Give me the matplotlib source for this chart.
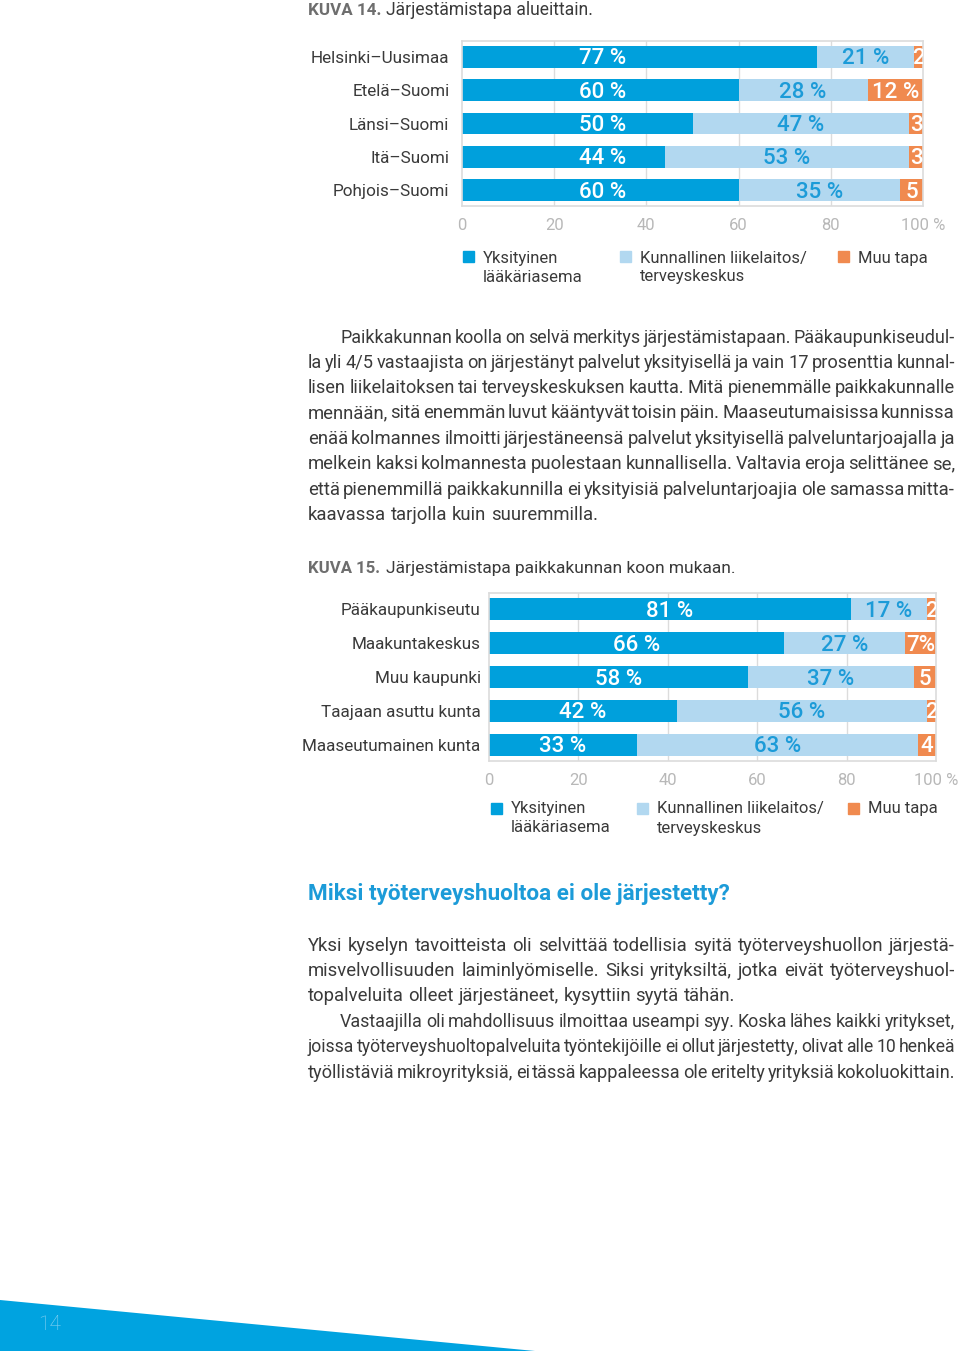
import numpy as np
import matplotlib
matplotlib.use('Agg')
import matplotlib.pyplot as plt
from matplotlib import font_manager
from matplotlib.patches import Rectangle, Polygon

# --- data -------------------------------------------------------------
regions = ['Helsinki–Uusimaa', 'Etelä–Suomi', 'Länsi–Suomi', 'Itä–Suomi', 'Pohjois–Suomi']
reg_private = [77, 60, 50, 44, 60]
reg_municipal = [21, 28, 47, 53, 35]
reg_other = [2, 12, 3, 3, 5]
reg_other_labels = ['2', '12 %', '3', '3', '5']

sizes = ['Pääkaupunkiseutu', 'Maakuntakeskus', 'Muu kaupunki',
         'Taajaan asuttu kunta', 'Maaseutumainen kunta']
size_private = [81, 66, 58, 42, 33]
size_municipal = [17, 27, 37, 56, 63]
size_other = [2, 7, 5, 2, 4]
size_other_labels = ['2', '7%', '5', '2', '4']

legend_labels = [['Yksityinen', 'lääkäriasema'],
                 ['Kunnallinen liikelaitos/', 'terveyskeskus'],
                 ['Muu tapa']]
xticks = [0, 20, 40, 60, 80, 100]
xtick_labels = ['0', '20', '40', '60', '80', '100 %']

para1 = [
    'Paikkakunnan koolla on selvä merkitys järjestämistapaan. Pääkaupunkiseudul-',
    'la yli 4/5 vastaajista on järjestänyt palvelut yksityisellä ja vain 17 prosenttia kunnal-',
    'lisen liikelaitoksen tai terveyskeskuksen kautta. Mitä pienemmälle paikkakunnalle',
    'mennään, sitä enemmän luvut kääntyvät toisin päin. Maaseutumaisissa kunnissa',
    'enää kolmannes ilmoitti järjestäneensä palvelut yksityisellä palveluntarjoajalla ja',
    'melkein kaksi kolmannesta puolestaan kunnallisella. Valtavia eroja selittänee se,',
    'että pienemmillä paikkakunnilla ei yksityisiä palveluntarjoajia ole samassa mitta-',
    'kaavassa tarjolla kuin suuremmilla.',
]
para2 = [
    'Yksi kyselyn tavoitteista oli selvittää todellisia syitä työterveyshuollon järjestä-',
    'misvelvollisuuden laiminlyömiselle. Siksi yrityksiltä, jotka eivät työterveyshuol-',
    'topalveluita olleet järjestäneet, kysyttiin syytä tähän.',
]
para3 = [
    'Vastaajilla oli mahdollisuus ilmoittaa useampi syy. Koska lähes kaikki yritykset,',
    'joissa työterveyshuoltopalveluita työntekijöille ei ollut järjestetty, olivat alle 10 henkeä',
    'työllistäviä mikroyrityksiä, ei tässä kappaleessa ole eritelty yrityksiä kokoluokittain.',
]

# --- style ------------------------------------------------------------
DARK = '#00a0dc'
LIGHT = '#b2d8f0'
ORANGE = '#f08a4f'
TXT = '#3a3a3a'
GRID = '#dcdcdc'
TICK = '#b8b8b8'

installed = {f.name for f in font_manager.fontManager.ttflist}
BODY = 'Liberation Sans Narrow' if 'Liberation Sans Narrow' in installed else 'Roboto'
CHART = 'Roboto'

W, H = 960, 1351
fig = plt.figure(figsize=(W / 100, H / 100), dpi=100)
fig.patch.set_facecolor('white')
renderer = fig.canvas.get_renderer()


def fx(x):
    return x / W


def fy(y):
    return 1 - y / H


def width_of(t):
    return t.get_window_extent(renderer).width


def fit_text(x, yb, s, target, size=12, **kw):
    t = fig.text(fx(x), fy(yb), s, fontsize=size, va='baseline', ha='left', **kw)
    t.set_fontsize(size * target / width_of(t))
    return t


def justify(line, x0, x1, yb, size, last=False):
    # place words one by one so the line fills x0..x1 like the printed page
    words = line.split()
    while True:
        arts = [fig.text(0, 0, w, fontsize=size, family=BODY, color=TXT,
                         va='baseline', ha='left') for w in words]
        widths = [width_of(a) for a in arts]
        space = 0.25 * size * 100 / 72
        if last:
            gap = space
        else:
            gap = (x1 - x0 - sum(widths)) / (len(words) - 1)
        if gap >= 0.5 * space:
            break
        for a in arts:
            a.remove()
        size *= 0.985
    x = x0
    for a, w in zip(arts, widths):
        a.set_position((fx(x), fy(yb)))
        x += w + gap


def bar_chart(box, cats, private, municipal, other, other_labels,
              label_pad, fixed_x=None):
    l, t, r, b = box
    ax = fig.add_axes([fx(l), fy(b), (r - l) / W, (b - t) / H])
    y = np.arange(len(cats))
    private = np.array(private)
    municipal = np.array(municipal)
    other = np.array(other)
    ax.barh(y, private, height=0.66, color=DARK, zorder=2)
    ax.barh(y, municipal, left=private, height=0.66, color=LIGHT, zorder=2)
    ax.barh(y, other, left=private + municipal, height=0.66, color=ORANGE, zorder=2)
    ax.set_xlim(0, 100)
    ax.set_ylim(len(cats) - 0.52, -0.48)
    dy = 0.06  # nudge labels down a touch, the digits sit optically high
    for i in range(len(cats)):
        px = fixed_x if fixed_x is not None else private[i] / 2
        ax.text(px, i + dy, f'{private[i]} %', color='white', fontsize=16, weight='medium',
                family=CHART, ha='center', va='center', zorder=3)
        ax.text(private[i] + municipal[i] / 2, i + dy, f'{municipal[i]} %', color='#1c9bd8',
                fontsize=16, weight='medium', family=CHART, ha='center', va='center', zorder=3)
        ax.text(private[i] + municipal[i] + other[i] / 2, i + dy, other_labels[i],
                color='white', fontsize=16, weight='medium', family=CHART,
                ha='center', va='center', zorder=3, clip_on=True)
    ax.set_yticks(y)
    ax.set_yticklabels(cats, fontsize=12.3, family=CHART, color=TXT)
    ax.set_xticks(xticks)
    ax.set_xticklabels(xtick_labels, fontsize=12, family=CHART, color=TICK)
    ax.tick_params(axis='y', length=0, pad=label_pad)
    ax.tick_params(axis='x', length=0, pad=9)
    for g in xticks[1:-1]:
        ax.axvline(g, color=GRID, lw=1, zorder=1)
    for s in ax.spines.values():
        s.set_color(GRID)
        s.set_linewidth(1.2)
    return ax


def legend(xs, ysq, text_y):
    cols = [DARK, LIGHT, ORANGE]
    for x, c, lines in zip(xs, cols, legend_labels):
        fig.add_artist(Rectangle((fx(x), fy(ysq + 11)), 11 / W, 11 / H,
                                 transform=fig.transFigure, color=c))
        for k, ln in enumerate(lines):
            fig.text(fx(x + 20), fy(text_y + 19 * k), ln, fontsize=12, family=CHART,
                     color=TXT, va='center', ha='left')


# --- chart 14 ---------------------------------------------------------
fit_text(308, 15, 'KUVA 14.', 73, family=BODY, weight='bold', color='#6e6e6e')
fit_text(386, 15, 'Järjestämistapa alueittain.', 207, family=BODY, color=TXT)
bar_chart((462, 41, 923, 206), regions, reg_private, reg_municipal, reg_other,
          reg_other_labels, label_pad=9, fixed_x=30.5)
legend([463, 620, 838], 251, 258)

# --- body text 1 ------------------------------------------------------
base1 = [343, 368, 393, 418, 444, 469, 495, 520]
for i, (ln, yb) in enumerate(zip(para1, base1)):
    justify(ln, 340 if i == 0 else 308, 955, yb, 13.3, last=(i == len(para1) - 1))

# --- chart 15 ---------------------------------------------------------
fit_text(308, 573, 'KUVA 15.', 72, family=BODY, weight='bold', color='#6e6e6e')
fit_text(386, 573, 'Järjestämistapa paikkakunnan koon mukaan.', 349, family=BODY, color=TXT)
bar_chart((489, 593, 936, 761), sizes, size_private, size_municipal, size_other,
          size_other_labels, label_pad=6)
legend([491, 637, 848], 803, 809)

# --- heading + body text 2 -------------------------------------------
fit_text(308, 900, 'Miksi työterveyshuoltoa ei ole järjestetty?', 422,
         family=BODY, weight='bold', color='#1c9bd8')
base2 = [951, 976, 1001]
for i, (ln, yb) in enumerate(zip(para2, base2)):
    justify(ln, 308, 955, yb, 13.3, last=(i == 2))
base3 = [1027, 1052, 1078]
for i, (ln, yb) in enumerate(zip(para3, base3)):
    justify(ln, 340 if i == 0 else 308, 955, yb, 13.3)

# --- footer -----------------------------------------------------------
fig.add_artist(Polygon([(0, fy(1300)), (fx(535), 0), (0, 0)], closed=True,
                       transform=fig.transFigure, color='#00a3e0', lw=0))
fig.text(fx(50), fy(1325), '14', fontsize=15, family=CHART, color='#8ad2f2',
         ha='center', va='center', weight='light')

fig.savefig('out.png', dpi=100)
